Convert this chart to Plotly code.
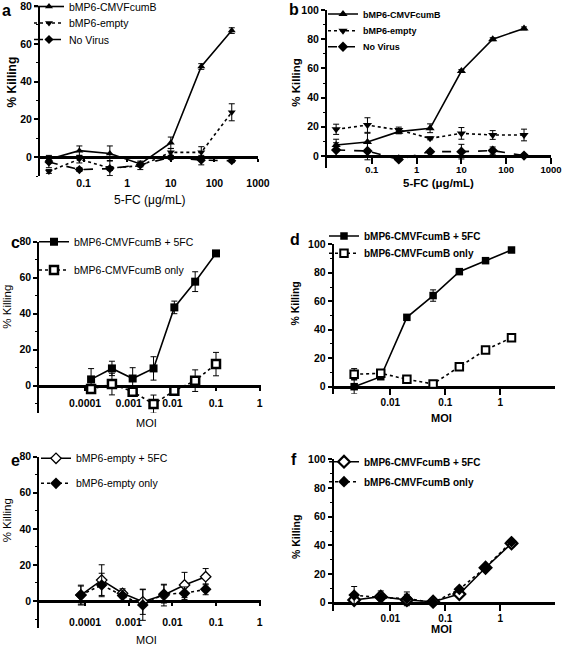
import plotly.graph_objects as go

# ---------------- data ----------------
conc = [0.016, 0.08, 0.4, 2, 10, 50, 250]

a_cmv = [-1, 3.5, 2, -3.5, 7.7, 48, 67]
a_cmv_err = [2, 2.5, 4, 1.5, 3, 1.5, 1.5]
a_empty = [-7.5, -1, -5.7, -4.5, 2.6, 2.6, 23.8]
a_empty_err = [1, 2, 4, 2, 2, 3, 4.5]
a_novirus = [-2.5, -6.5, -6, -4, 0, -1.5, -1.8]
a_novirus_err = [3, 1, 1, 1, 1, 2.5, 1]

b_cmv = [7.5, 9.6, 16.7, 19, 58.2, 80, 87.4]
b_cmv_err = [4, 6, 1.5, 3, 1, 1, 1]
b_empty = [18.3, 21.2, 17.8, 12.1, 15.5, 14.4, 14.4]
b_empty_err = [3.5, 5, 2, 1, 4, 3, 4]
b_novirus = [4.1, 3.4, -2.3, 3, 3, 3.7, 0.3]
b_novirus_err = [5, 6, 0.5, 1, 5, 2.5, 0.5]

c_moi = [0.000137, 0.000412, 0.00123, 0.0037, 0.0111, 0.0333, 0.1]
c_plus = [3.5, 9.6, 4, 9.6, 43.5, 57.8, 73.5]
c_plus_err = [6, 4, 6, 6.5, 3.5, 5.5, 1]
c_only = [-1.9, 0.9, -3.3, -10.2, -2.8, 2.8, 12]
c_only_err = [1, 6, 2, 5, 1, 6, 6.5]

d_moi = [0.0022, 0.0067, 0.02, 0.06, 0.18, 0.54, 1.6]
d_plus = [0, 7, 48.7, 64, 80.8, 88.5, 96]
d_plus_err = [5, 1, 1, 4, 1, 1, 1]
d_only = [8.7, 9.4, 5.2, 1.9, 14, 25.8, 34.4]
d_only_err = [4, 1, 1, 1, 1, 2, 1]

e_moi = [0.00008, 0.00024, 0.00072, 0.0021, 0.0064, 0.019, 0.058]
e_plus = [3.3, 11.6, 4.3, -0.4, 3.3, 8.9, 13.5]
e_plus_err = [5, 8.5, 2.5, 7, 6, 7, 4.5]
e_only = [3.3, 8.9, 3, -2.2, 3.9, 4.3, 6.5]
e_only_err = [5.5, 6.5, 3, 8.5, 5, 3.5, 3]

f_moi = [0.0022, 0.0067, 0.02, 0.06, 0.18, 0.54, 1.6]
f_plus = [1.9, 4.2, 1.9, 0.7, 6, 24.4, 41.4]
f_plus_err = [2, 4, 4, 0.5, 1, 1, 2.5]
f_only = [5.3, 3.5, 3, 0, 9.3, 24.6, 42.6]
f_only_err = [6, 2, 4.5, 0.5, 1, 1, 1.5]

names_a = ["bMP6-CMVFcumB", "bMP6-empty", "No Virus"]
names_cd = ["bMP6-CMVFcumB + 5FC", "bMP6-CMVFcumB only"]
names_e = ["bMP6-empty + 5FC", "bMP6-empty only"]
names_f = ["bMP6-CMVFcumB + 5FC", "bMP6-CMVFcumB only"]

ticks_a = [0.1, 1, 10, 100, 1000]
ticks_a_txt = ["0.1", "1", "10", "100", "1000"]
ticks_ce = [0.0001, 0.001, 0.01, 0.1, 1]
ticks_ce_txt = ["0.0001", "0.001", "0.01", "0.1", "1"]
ticks_df = [0.01, 0.1, 1, 10]
ticks_df_txt = ["0.01", "0.1", "1", "10"]

# ---------------- layout helpers ----------------
W, H = 564, 647
FONT = "Arial, Liberation Sans, sans-serif"


def PX(p):
    return p / W


def PY(p):
    return 1 - p / H


fig = go.Figure()

panels = {
    1: dict(xd=(40, 258), xr=[-2, 3], yd=(6.0, 176.2), yr=[-10, 80], z=157.3, gp=False,
            tv=ticks_a, tt=ticks_a_txt, tfs=10.5, so=12),
    2: dict(xd=(327, 551), xr=[-2, 3], yd=(10, 167.7), yr=[-8, 100], z=156, gp=True,
            tv=ticks_a, tt=ticks_a_txt, tfs=9.5, so=-2),
    3: dict(xd=(39.3, 260.5), xr=[-5.05, 0.02], yd=(241.7, 412.7), yr=[-15, 80], z=385.7, gp=False,
            tv=ticks_ce, tt=ticks_ce_txt, tfs=10.5, so=4),
    4: dict(xd=(333.7, 554.7), xr=[-3.03, 0.99], yd=(244.3, 393.8), yr=[-5, 100], z=386.7, gp=True,
            tv=ticks_df, tt=ticks_df_txt, tfs=10, so=-1),
    5: dict(xd=(39.3, 260.5), xr=[-5.05, 0.02], yd=(456.7, 628.1), yr=[-15, 80], z=601, gp=False,
            tv=ticks_ce, tt=ticks_ce_txt, tfs=10.5, so=7),
    6: dict(xd=(333.7, 554.7), xr=[-3.03, 0.99], yd=(459.4, 611.3), yr=[-6, 100], z=602.7, gp=True,
            tv=ticks_df, tt=ticks_df_txt, tfs=10, so=-1),
}

legend_count = [0]
legends = {}


def add(panel, x, y, err, name, symbol, dash, msize, fill="black", lw_m=0,
        leg_text_x=0, leg_y=0, leg_font=10.5, bold=False):
    legend_count[0] += 1
    k = legend_count[0]
    lid = "legend" if k == 1 else f"legend{k}"
    sfx = "" if panel == 1 else str(panel)
    fig.add_trace(go.Scatter(
        x=x, y=y, name=name, mode="lines+markers",
        xaxis="x" + sfx, yaxis="y" + sfx, legend=lid,
        line=dict(color="black", width=1.6, dash=dash),
        marker=dict(symbol=symbol, size=msize, color=fill,
                    line=dict(color="black", width=lw_m)),
        error_y=dict(type="data", array=err, visible=True, color="black",
                     thickness=1, width=3),
        cliponaxis=False,
    ))
    legends[lid] = dict(
        x=PX(leg_text_x - 40), y=PY(leg_y), xanchor="left", yanchor="middle",
        bgcolor="rgba(0,0,0,0)", borderwidth=0, itemwidth=30,
        font=dict(family=FONT, size=leg_font, color="black",
                  weight="bold" if bold else "normal"),
    )


# panel a
add(1, conc, a_cmv, a_cmv_err, names_a[0], "triangle-up", "solid", 7, leg_text_x=69, leg_y=6.5)
add(1, conc, a_empty, a_empty_err, names_a[1], "triangle-down", "dot", 7, leg_text_x=69, leg_y=23)
add(1, conc, a_novirus, a_novirus_err, names_a[2], "diamond", "dash", 7, leg_text_x=69, leg_y=39.5)
# panel b
add(2, conc, b_cmv, b_cmv_err, names_a[0], "triangle-up", "solid", 8, leg_text_x=363, leg_y=14, leg_font=9, bold=True)
add(2, conc, b_empty, b_empty_err, names_a[1], "triangle-down", "dot", 8, leg_text_x=363, leg_y=30.7, leg_font=9, bold=True)
add(2, conc, b_novirus, b_novirus_err, names_a[2], "diamond", "dash", 8, leg_text_x=363, leg_y=46.7, leg_font=9, bold=True)
# panel c
add(3, c_moi, c_plus, c_plus_err, names_cd[0], "square", "solid", 8, leg_text_x=74, leg_y=241.7, leg_font=10.5)
add(3, c_moi, c_only, c_only_err, names_cd[1], "square", "dot", 8, fill="white", lw_m=2.5, leg_text_x=74, leg_y=270, leg_font=10.5)
# panel d
add(4, d_moi, d_plus, d_plus_err, names_cd[0], "square", "solid", 7.5, leg_text_x=364, leg_y=236, leg_font=10, bold=True)
add(4, d_moi, d_only, d_only_err, names_cd[1], "square", "dot", 7.5, fill="white", lw_m=2, leg_text_x=364, leg_y=253.3, leg_font=10, bold=True)
# panel e
add(5, e_moi, e_plus, e_plus_err, names_e[0], "diamond", "solid", 8, fill="white", lw_m=1.3, leg_text_x=76, leg_y=458.3, leg_font=10.5)
add(5, e_moi, e_only, e_only_err, names_e[1], "diamond", "dot", 9, leg_text_x=76, leg_y=483.3, leg_font=10.5)
# panel f
add(6, f_moi, f_plus, f_plus_err, names_f[0], "diamond", "solid", 9, fill="white", lw_m=2.2, leg_text_x=364, leg_y=461.7, leg_font=10, bold=True)
add(6, f_moi, f_only, f_only_err, names_f[1], "diamond", "dot", 9, leg_text_x=364, leg_y=481.7, leg_font=10, bold=True)

layout = dict(
    width=W, height=H, autosize=False,
    margin=dict(l=0, r=0, t=0, b=0, pad=0, autoexpand=False),
    paper_bgcolor="white", plot_bgcolor="white",
    font=dict(family=FONT, color="black"),
    showlegend=True,
)
layout.update(legends)

for n, p in panels.items():
    sfx = "" if n == 1 else str(n)
    y0p, y1p = PY(p["yd"][1]), PY(p["yd"][0])
    layout["xaxis" + sfx] = dict(
        type="log", range=p["xr"], domain=[PX(p["xd"][0]), PX(p["xd"][1])],
        anchor="free", position=PY(p["z"]),
        showline=True, linewidth=3, linecolor="black", layer="below traces",
        ticks="outside", ticklen=6 if p["gp"] else 3, tickwidth=2 if p["gp"] else 1.5,
        tickcolor="black",
        tickvals=p["tv"], ticktext=p["tt"],
        tickfont=dict(family=FONT, size=p["tfs"], color="black", weight="bold"),
        ticklabelstandoff=p["so"], ticklabeloverflow="allow",
        showgrid=False, zeroline=False, fixedrange=True, automargin=False,
    )
    layout["yaxis" + sfx] = dict(
        range=p["yr"], domain=[y0p, y1p], anchor="x" + sfx,
        showline=True, linewidth=2, linecolor="black",
        ticks="outside", ticklen=4, tickwidth=1.5, tickcolor="black",
        tick0=0, dtick=20, ticklabeloverflow="allow",
        minor=dict(ticks="outside", ticklen=2, tickwidth=1, dtick=10, tick0=0, tickcolor="black"),
        tickfont=dict(family=FONT, size=10.5, color="black", weight="bold"),
        showgrid=False, zeroline=False, fixedrange=True, automargin=False,
    )

anns = []
for txt, x, y, s in [("a", 6, 10, 16), ("b", 293.5, 9, 16), ("c", 15, 243, 16),
                     ("d", 295, 239, 16), ("e", 15, 460, 16), ("f", 293.5, 459, 16)]:
    anns.append(dict(text=f"<b>{txt}</b>", x=PX(x), y=PY(y), xref="paper", yref="paper",
                     showarrow=False, xanchor="center", yanchor="middle",
                     font=dict(family=FONT, size=s, color="black")))
for x, y, s, b in [(11.7, 81.7, 12, True), (296, 82.7, 11.5, True), (7, 306.7, 11.5, False),
                   (295.3, 303.3, 10.5, True), (7.3, 520, 11.5, False), (295.3, 536.7, 10.5, True)]:
    anns.append(dict(text="% Killing", x=PX(x), y=PY(y), xref="paper", yref="paper",
                     showarrow=False, textangle=-90, xanchor="center", yanchor="middle",
                     font=dict(family=FONT, size=s, color="black", weight="bold" if b else "normal")))
for t, x, y, s, b in [("5-FC (μg/mL)", 150, 200, 12, False), ("5-FC (μg/mL)", 438.7, 183, 11.5, True),
                      ("MOI", 146.7, 423.3, 11, False), ("MOI", 441.3, 418.3, 11, True),
                      ("MOI", 146.7, 640, 11, False), ("MOI", 441.3, 629.3, 11, True)]:
    anns.append(dict(text=t, x=PX(x), y=PY(y), xref="paper", yref="paper",
                     showarrow=False, xanchor="center", yanchor="middle",
                     font=dict(family=FONT, size=s, color="black", weight="bold" if b else "normal")))
layout["annotations"] = anns

fig.update_layout(**layout)
fig.write_html("out.html", config={"displayModeBar": False},
               post_script="document.body.style.margin='0px';document.body.style.overflow='hidden';")
